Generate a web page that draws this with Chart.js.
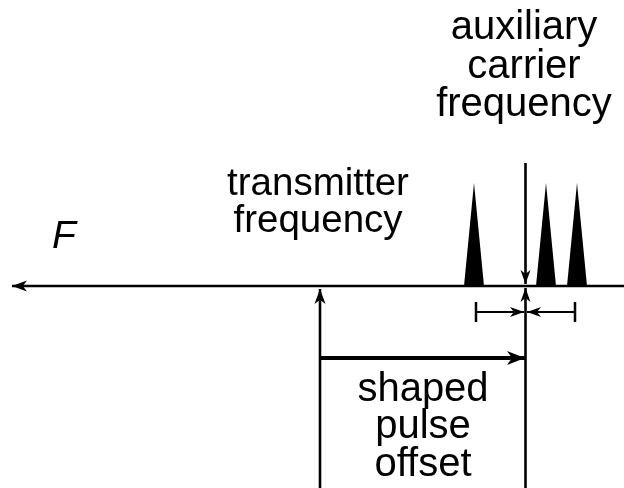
<!DOCTYPE html>
<html>
<head>
<meta charset="utf-8">
<script src="https://cdn.jsdelivr.net/npm/chart.js@4.4.1/dist/chart.umd.min.js"></script>
<style>
    html, body { margin: 0; padding: 0; background: #fff; }
    #wrap { width: 624px; height: 488px; position: relative; }
</style>
</head>
<body>
<div id="wrap"><canvas id="diagram"></canvas></div>
<script>
// Diagram coordinates (x to the right, y downwards)
const freqAxis = [{ x: 624, y: 286 }, { x: 12, y: 286 }];
const transmitterLine = [{ x: 320, y: 488 }, { x: 320, y: 289 }];
const carrierUpper = [{ x: 525.5, y: 163 }, { x: 525.5, y: 284 }];
const carrierLower = [{ x: 525.5, y: 488 }, { x: 525.5, y: 288 }];
const offsetArrow = [{ x: 320, y: 358 }, { x: 525, y: 358 }];
const spacingLeft = [{ x: 476, y: 312 }, { x: 524, y: 312 }];
const spacingRight = [{ x: 575, y: 312 }, { x: 527, y: 312 }];
const tickLeft = [{ x: 476, y: 302 }, { x: 476, y: 322 }];
const tickRight = [{ x: 575, y: 302 }, { x: 575, y: 322 }];
const peaks = [
    [{ x: 464, y: 286 }, { x: 474, y: 183 }, { x: 484, y: 286 }],
    [{ x: 536, y: 286 }, { x: 546, y: 183 }, { x: 556, y: 286 }],
    [{ x: 567, y: 286 }, { x: 577, y: 183 }, { x: 587, y: 286 }]
];

// Labels: [text, x, baseline y, font size]
const labels = [
    ['auxiliary', 524, 39, 40], ['carrier', 524, 77.5, 40], ['frequency', 524, 116, 40],
    ['transmitter', 318, 195, 38.5], ['frequency', 318, 232, 38.5],
    ['shaped', 423, 401, 40], ['pulse', 423, 438, 40], ['offset', 423, 476, 40]
];
const axisLabel = ['F', 52, 248];

const ink = '#000';

const lineSet = (data, width, arrow) => ({
    data: data,
    showLine: true,
    borderColor: ink,
    borderWidth: width,
    pointRadius: 0,
    fill: false,
    arrow: arrow || null
});

const datasets = [
    lineSet(freqAxis, 2.6, { len: 15, half: 5.5 }),
    lineSet(transmitterLine, 2.6, { len: 15, half: 5.5 }),
    lineSet(carrierUpper, 2.6, { len: 14, half: 5 }),
    lineSet(carrierLower, 2.6, { len: 14, half: 5 }),
    lineSet(offsetArrow, 4, { len: 18, half: 7 }),
    lineSet(spacingLeft, 2, { len: 14, half: 5 }),
    lineSet(spacingRight, 2, { len: 14, half: 5 }),
    lineSet(tickLeft, 2.5),
    lineSet(tickRight, 2.5)
];
peaks.forEach(p => {
    datasets.push({
        data: p,
        showLine: true,
        borderColor: ink,
        borderWidth: 0,
        backgroundColor: ink,
        pointRadius: 0,
        fill: { value: 286 }
    });
});

// arrowheads at the last point of datasets flagged with "arrow"
const arrowPlugin = {
    id: 'arrows',
    afterDatasetsDraw(chart) {
        const ctx = chart.ctx;
        chart.data.datasets.forEach((ds, i) => {
            if (!ds.arrow) return;
            const pts = chart.getDatasetMeta(i).data;
            const a = pts[pts.length - 2], b = pts[pts.length - 1];
            const ang = Math.atan2(b.y - a.y, b.x - a.x);
            const { len, half } = ds.arrow;
            ctx.save();
            ctx.translate(b.x, b.y);
            ctx.rotate(ang);
            ctx.fillStyle = ink;
            ctx.beginPath();
            ctx.moveTo(0, 0);
            ctx.lineTo(-len, -half);
            ctx.lineTo(-len * 0.72, 0);
            ctx.lineTo(-len, half);
            ctx.closePath();
            ctx.fill();
            ctx.restore();
        });
    }
};

const textPlugin = {
    id: 'texts',
    afterDraw(chart) {
        const ctx = chart.ctx;
        const sx = chart.scales.x, sy = chart.scales.y;
        ctx.save();
        ctx.fillStyle = ink;
        ctx.textAlign = 'center';
        ctx.textBaseline = 'alphabetic';
        labels.forEach(([t, x, y, size]) => {
            ctx.font = size + 'px "Liberation Sans", Arial, sans-serif';
            ctx.fillText(t, sx.getPixelForValue(x), sy.getPixelForValue(y));
        });
        ctx.textAlign = 'left';
        ctx.font = 'italic 39px "Liberation Sans", Arial, sans-serif';
        ctx.fillText(axisLabel[0], sx.getPixelForValue(axisLabel[1]), sy.getPixelForValue(axisLabel[2]));
        ctx.restore();
    }
};

new Chart(document.getElementById('diagram'), {
    type: 'scatter',
    data: { datasets: datasets },
    options: {
        responsive: true,
        maintainAspectRatio: false,
        animation: false,
        layout: { padding: 0 },
        plugins: { legend: { display: false }, tooltip: { enabled: false } },
        scales: {
            x: { type: 'linear', min: 0, max: 624, display: false },
            y: { type: 'linear', min: 0, max: 488, reverse: true, display: false }
        }
    },
    plugins: [arrowPlugin, textPlugin]
});
</script>
</body>
</html>
